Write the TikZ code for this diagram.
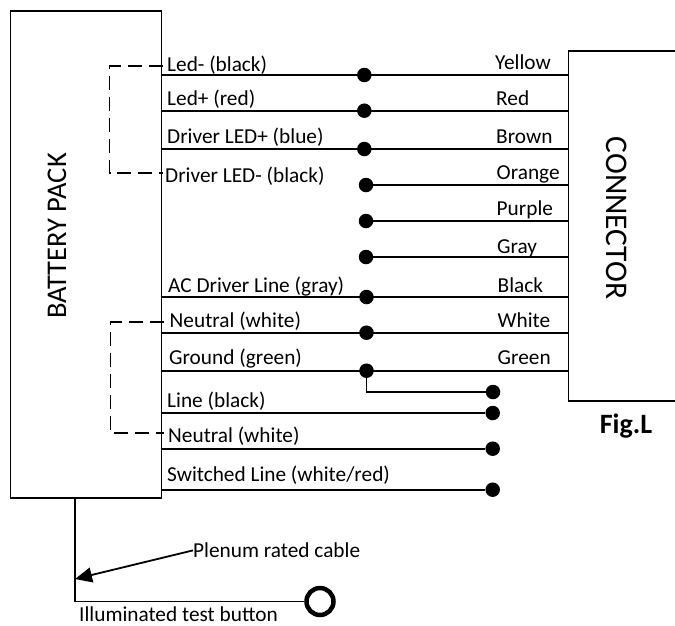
\documentclass[tikz,border=0pt]{standalone}
\usepackage{fontspec}
\setmainfont{Carlito}
\usetikzlibrary{arrows.meta}
\tikzset{
  wire/.style={line width=1.8pt},
  dashwire/.style={line width=1.9pt,dash pattern=on 14pt off 7pt},
  dot/.style={circle,fill=black,inner sep=0pt,minimum size=14.5pt},
  box/.style={draw,line width=1.5pt},
  lbl/.style={font=\fontsize{21.3}{25}\selectfont,anchor=base west,inner sep=0pt},
  clbl/.style={font=\fontsize{21.3}{25}\selectfont,anchor=base west,inner sep=0pt}
}
\begin{document}
\begin{tikzpicture}[x=1pt,y=-1pt]
\useasboundingbox (0,0) rectangle (675,625);
\node[box,minimum width=151pt,minimum height=487pt,inner sep=0pt,anchor=north west] (bat) at (9.5,10) {};
\node[font=\fontsize{28.5}{32}\selectfont,inner sep=0pt,rotate=90] (battxt) at (57,236) {BATTERY PACK};
\coordinate (cnw) at (675,51);
\coordinate (cn) at (568.7,51);
\coordinate (cs) at (568.7,401);
\coordinate (cse) at (675,401);
\draw[box] (cnw) -- (cn) -- (cs) -- (cse);
\node[font=\fontsize{31.5}{34}\selectfont,inner sep=0pt,rotate=-90] (contxt) at (617,218) {CONNECTOR};
\node[font=\fontsize{28}{32}\selectfont\bfseries,inner sep=0pt] (fig) at (626,426) {Fig.L};
% wires to connector
\foreach \n/\y/\dx/\lab/\lx/\ly/\col/\cx/\cy in {
 1/75/364.3/Led- (black)/167/71.7/Yellow/495/69,
 2/110.7/364.3/Led+ (red)/167/105.5/Red/496/105.5,
 3/149/364.3/Driver LED+ (blue)/167/143.5/Brown/496/143.5}{
  \coordinate (wl\n) at (160.5,\y);
  \coordinate (wr\n) at (568.7,\y);
  \node[dot] (d\n) at (\dx,\y) {};
  \draw[wire] (wl\n) -- (wr\n);
  \node[lbl] (ll\n) at (\lx,\ly) {\lab};
  \node[clbl] (cl\n) at (\cx,\cy) {\col};
}
\node[lbl] (ll4) at (165,182) {Driver LED- (black)};
\foreach \n/\y/\col/\cx/\cy in {4/185/Orange/496.5/179.5,5/221/Purple/496.5/215,6/257/Gray/497/253.5}{
  \coordinate (wr\n) at (568.7,\y);
  \node[dot] (d\n) at (366,\y) {};
  \draw[wire] (d\n) -- (wr\n);
  \node[clbl] (cl\n) at (\cx,\cy) {\col};
}
\foreach \n/\y/\lab/\lx/\ly/\col/\cx/\cy in {
 7/297/AC Driver Line (gray)/168/292/Black/497.5/292,
 8/332.7/Neutral (white)/169.5/327.5/White/497.5/327,
 9/370.7/Ground (green)/169/364.5/Green/497.5/364.5}{
  \coordinate (wl\n) at (160.5,\y);
  \coordinate (wr\n) at (568.7,\y);
  \node[dot] (d\n) at (366.5,\y) {};
  \draw[wire] (wl\n) -- (wr\n);
  \node[lbl] (ll\n) at (\lx,\ly) {\lab};
  \node[clbl] (cl\n) at (\cx,\cy) {\col};
}
% ground branch
\node[dot] (g1) at (493,392) {};
\draw[wire] (d9) |- (g1);
% loose wires
\foreach \n/\y in {10/413,11/448.7,12/489.7}{
  \coordinate (wl\n) at (160.5,\y);
  \node[dot] (d\n) at (492.7,\y) {};
  \draw[wire] (wl\n) -- (d\n);
}
\node[lbl] (ll10) at (167,407.5) {Line (black)};
\node[lbl] (ll11) at (168,442) {Neutral (white)};
\node[lbl] (ll12) at (167,481) {Switched Line (white/red)};
% dashed loops
\coordinate (a1) at (163,66); \coordinate (a2) at (109.5,66);
\coordinate (a3) at (109.5,172.7); \coordinate (a4) at (163,172.7);
\draw[dashwire] (a1) -- (a2) -- (a3) -- (a4);
\coordinate (b1) at (164,322.3); \coordinate (b2) at (110.5,322.3);
\coordinate (b3) at (110.5,433); \coordinate (b4) at (164,433);
\draw[dashwire] (b1) -- (b2) -- (b3) -- (b4);
% test cable
\coordinate (t0) at (75,497);
\coordinate (t1) at (75,601.5);
\node[circle,draw,line width=4.5pt,inner sep=0pt,minimum size=27pt] (btn) at (320,601.5) {};
\draw[wire] (t0) -- (t1) -- (btn);
\node[lbl] (pl) at (193,557.7) {Plenum rated cable};
\coordinate (ar) at (75,579);
\draw[wire,-{Triangle[length=17pt,width=15pt]}] (pl.west) -- (ar);
\node[lbl] (il) at (79,621) {Illuminated test button};
\end{tikzpicture}
\end{document}
